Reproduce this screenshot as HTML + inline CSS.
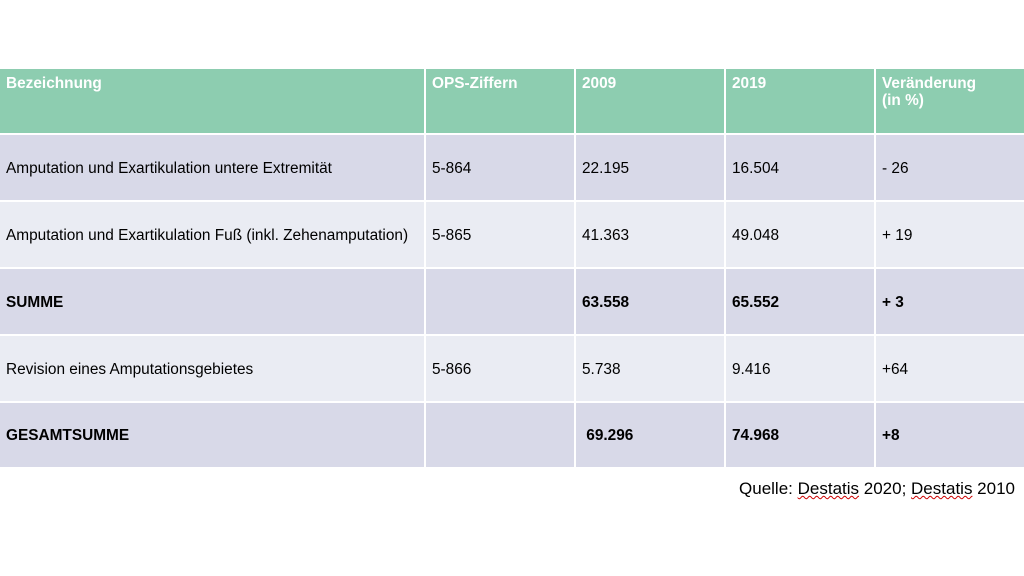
<!DOCTYPE html>
<html><head><meta charset="utf-8"><style>
body{margin:0;width:1024px;height:576px;background:#fff;position:relative;overflow:hidden;font-family:"Liberation Sans",sans-serif;}
.c{position:absolute;box-sizing:border-box;padding-left:6px;padding-top:2px;font-size:15.4px;color:#000;display:flex;align-items:center;}
.h{background:#8dcdb0;color:#fff;font-weight:bold;align-items:flex-start;padding-top:6px;line-height:17px;}
.d{background:#d8d9e8}.l{background:#eaecf3}.b{font-weight:bold}
.q{position:absolute;right:9px;top:479px;font-size:17px;}
.u{text-decoration:underline wavy #c00;text-decoration-thickness:1px;}
</style></head><body>
<div class="c h" style="left:0;top:69px;width:424px;height:64px">Bezeichnung</div>
<div class="c h" style="left:426px;top:69px;width:148px;height:64px">OPS-Ziffern</div>
<div class="c h" style="left:576px;top:69px;width:148px;height:64px">2009</div>
<div class="c h" style="left:726px;top:69px;width:148px;height:64px">2019</div>
<div class="c h" style="left:876px;top:69px;width:148px;height:64px">Veränderung<br>(in %)</div>

<div class="c d" style="left:0;top:135px;width:424px;height:65px">Amputation und Exartikulation untere Extremität</div>
<div class="c d" style="left:426px;top:135px;width:148px;height:65px">5-864</div>
<div class="c d" style="left:576px;top:135px;width:148px;height:65px">22.195</div>
<div class="c d" style="left:726px;top:135px;width:148px;height:65px">16.504</div>
<div class="c d" style="left:876px;top:135px;width:148px;height:65px">- 26</div>

<div class="c l" style="left:0;top:202px;width:424px;height:65px">Amputation und Exartikulation Fuß (inkl. Zehenamputation)</div>
<div class="c l" style="left:426px;top:202px;width:148px;height:65px">5-865</div>
<div class="c l" style="left:576px;top:202px;width:148px;height:65px">41.363</div>
<div class="c l" style="left:726px;top:202px;width:148px;height:65px">49.048</div>
<div class="c l" style="left:876px;top:202px;width:148px;height:65px">+ 19</div>

<div class="c d b" style="left:0;top:269px;width:424px;height:65px">SUMME</div>
<div class="c d b" style="left:426px;top:269px;width:148px;height:65px"></div>
<div class="c d b" style="left:576px;top:269px;width:148px;height:65px">63.558</div>
<div class="c d b" style="left:726px;top:269px;width:148px;height:65px">65.552</div>
<div class="c d b" style="left:876px;top:269px;width:148px;height:65px">+ 3</div>

<div class="c l" style="left:0;top:336px;width:424px;height:65px">Revision eines Amputationsgebietes</div>
<div class="c l" style="left:426px;top:336px;width:148px;height:65px">5-866</div>
<div class="c l" style="left:576px;top:336px;width:148px;height:65px">5.738</div>
<div class="c l" style="left:726px;top:336px;width:148px;height:65px">9.416</div>
<div class="c l" style="left:876px;top:336px;width:148px;height:65px">+64</div>

<div class="c d b" style="left:0;top:403px;width:424px;height:64px">GESAMTSUMME</div>
<div class="c d b" style="left:426px;top:403px;width:148px;height:64px"></div>
<div class="c d b" style="left:576px;top:403px;width:148px;height:64px">&nbsp;69.296</div>
<div class="c d b" style="left:726px;top:403px;width:148px;height:64px">74.968</div>
<div class="c d b" style="left:876px;top:403px;width:148px;height:64px">+8</div>

<div class="q">Quelle: <span class="u">Destatis</span> 2020; <span class="u">Destatis</span> 2010</div>
</body></html>
